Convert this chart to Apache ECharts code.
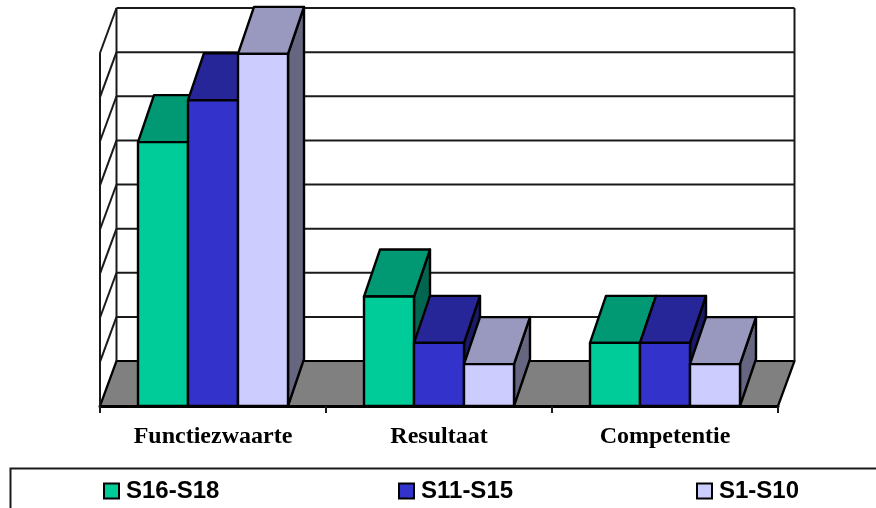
<!DOCTYPE html>
<html>
<head>
<meta charset="utf-8">
<script src="https://cdn.jsdelivr.net/npm/echarts@6/dist/echarts.min.js"></script>
<style>
html,body{margin:0;padding:0;background:#fff;}
#chart{width:876px;height:508px;}
</style>
</head>
<body>
<div id="chart"></div>
<script>
// Values per category and salary band
const categories = ['Functiezwaarte', 'Resultaat', 'Competentie'];
const s16s18 = [5.98, 2.48, 1.43];
const s11s15 = [6.93, 1.43, 1.43];
const s1s10 = [7.98, 0.95, 0.95];
const yTicks = [0, 1, 2, 3, 4, 5, 6, 7, 8];

// Pseudo-3D projection offsets, in pixels
const WALL_DX = 16.5, WALL_DY = -45;
const BAR_DX = 16, BAR_DY = -47;
const BAR_SHARE = 50 / 226;

const chart = echarts.init(document.getElementById('chart'), null, { renderer: 'canvas' });

function poly(points, fill, lineWidth) {
  return {
    type: 'polygon',
    shape: { points: points },
    style: { fill: fill, stroke: '#000', lineWidth: lineWidth, lineJoin: 'round' }
  };
}

function line(x1, y1, x2, y2, lineWidth) {
  return {
    type: 'line',
    shape: { x1: x1, y1: y1, x2: x2, y2: y2 },
    style: { stroke: '#1a1a1a', lineWidth: lineWidth, fill: null }
  };
}

// Floor, back wall gridlines and left wall rungs
function renderFrame(params, api) {
  const tick = api.value(0);
  const cs = params.coordSys;
  const xL = cs.x, xR = cs.x + cs.width;
  const y = api.coord([0, tick])[1];
  const top = cs.y, base = cs.y + cs.height;
  const children = [];
  if (tick === 0) {
    children.push(poly([[xL, base], [xL + WALL_DX, base + WALL_DY], [xR + WALL_DX, base + WALL_DY], [xR, base]], '#808080', 2.2));
    children.push(line(xL, top, xL, base, 2));
    children.push(line(xL + WALL_DX, top + WALL_DY, xL + WALL_DX, base + WALL_DY, 2));
    children.push(line(xR + WALL_DX, top + WALL_DY, xR + WALL_DX, base + WALL_DY, 2));
  } else {
    children.push(line(xL + WALL_DX, y + WALL_DY, xR + WALL_DX, y + WALL_DY, 2));
    children.push(line(xL, y, xL + WALL_DX, y + WALL_DY, 2));
  }
  return { type: 'group', children: children };
}

// One extruded bar: side, top and front faces
function barRenderer(order, front, topFace, side) {
  return function (params, api) {
    const cat = api.value(0);
    const val = api.value(1);
    const band = api.size([1, 0])[0];
    const w = band * BAR_SHARE;
    const c = api.coord([cat, val]);
    const b = api.coord([cat, 0]);
    const x0 = c[0] - w * 1.5 + order * w;
    const x1 = x0 + w;
    const yT = c[1], yB = b[1];
    return {
      type: 'group',
      children: [
        poly([[x1, yT], [x1 + BAR_DX, yT + BAR_DY], [x1 + BAR_DX, yB + BAR_DY], [x1, yB]], side, 2.4),
        poly([[x0, yT], [x0 + BAR_DX, yT + BAR_DY], [x1 + BAR_DX, yT + BAR_DY], [x1, yT]], topFace, 2.4),
        poly([[x0, yT], [x1, yT], [x1, yB], [x0, yB]], front, 2.4)
      ]
    };
  };
}

function barSeries(name, values, order, front, topFace, side) {
  return {
    name: name,
    type: 'custom',
    clip: false,
    z: 3 + order,
    itemStyle: { color: front, borderColor: '#000', borderWidth: 2 },
    renderItem: barRenderer(order, front, topFace, side),
    encode: { x: 0, y: 1 },
    data: values.map(function (v, i) { return [i, v]; })
  };
}

function legendItem(name, left) {
  return {
    data: [name],
    left: left,
    top: 479,
    padding: 0,
    icon: 'rect',
    itemWidth: 15,
    itemHeight: 15,
    itemGap: 0,
    selectedMode: false,
    textStyle: {
      color: '#000',
      fontFamily: '"Liberation Sans"',
      fontWeight: 'bold',
      fontSize: 24,
      padding: [0, 0, 0, 2]
    }
  };
}

chart.setOption({
  animation: false,
  backgroundColor: '#fff',
  grid: { left: 100, top: 53, width: 678, height: 353 },
  xAxis: {
    type: 'category',
    data: categories,
    boundaryGap: true,
    z: 10,
    axisLine: { show: true, lineStyle: { color: '#000', width: 3 } },
    axisTick: { show: true, length: 7, lineStyle: { color: '#1a1a1a', width: 2 } },
    axisLabel: {
      margin: 19,
      interval: 0,
      color: '#000',
      fontFamily: '"Liberation Serif"',
      fontWeight: 'bold',
      fontSize: 24
    }
  },
  yAxis: {
    type: 'value',
    min: 0,
    max: 8,
    interval: 1,
    axisLine: { show: false },
    axisTick: { show: false },
    axisLabel: { show: false },
    splitLine: { show: false }
  },
  legend: [
    legendItem('S16-S18', 103),
    legendItem('S11-S15', 398),
    legendItem('S1-S10', 696)
  ],
  // Legend frame, open past the right and bottom edges of the page
  graphic: [{
    type: 'rect',
    left: 8,
    top: 466,
    shape: { width: 900, height: 70 },
    style: { fill: 'none', stroke: '#1a1a1a', lineWidth: 2 }
  }],
  series: [
    {
      name: 'frame',
      type: 'custom',
      clip: false,
      z: 1,
      renderItem: renderFrame,
      encode: { y: 0 },
      data: yTicks.map(function (t) { return [t]; })
    },
    barSeries('S16-S18', s16s18, 0, '#00CC99', '#009973', '#006650'),
    barSeries('S11-S15', s11s15, 1, '#3333CC', '#262699', '#1A1A66'),
    barSeries('S1-S10', s1s10, 2, '#CCCCFF', '#9999BF', '#666680')
  ]
});
</script>
</body>
</html>
